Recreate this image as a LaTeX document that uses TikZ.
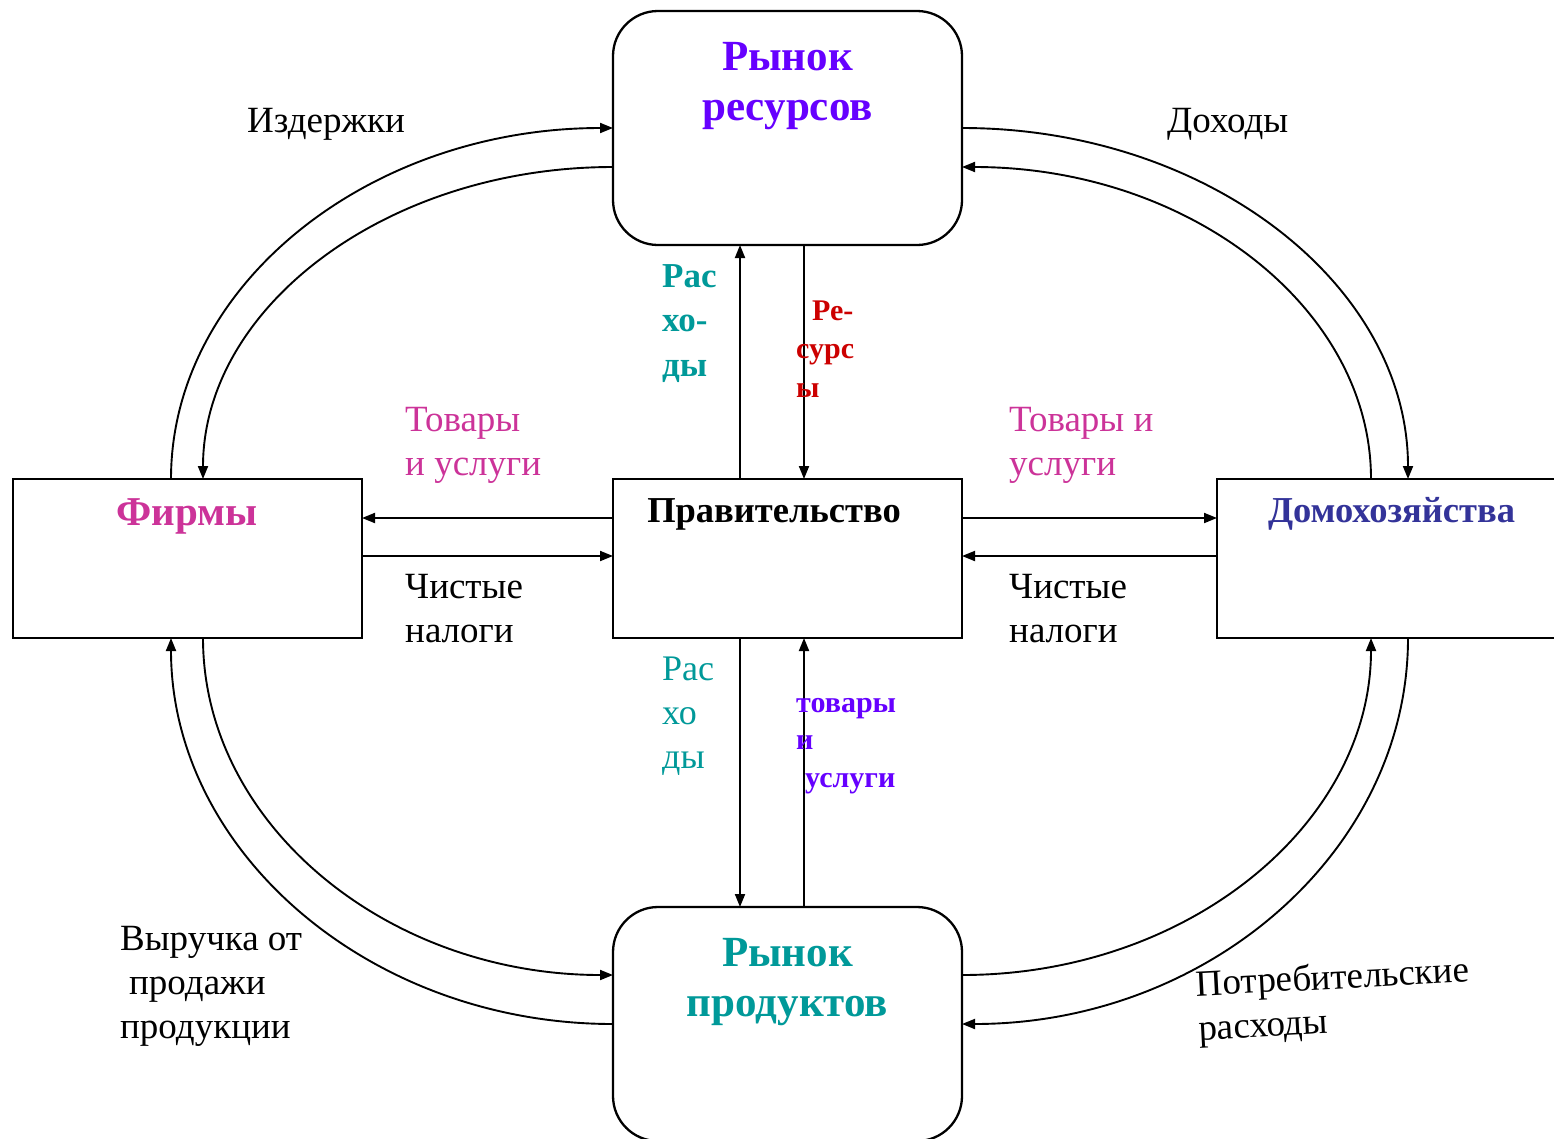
\documentclass[tikz,border=0pt]{standalone}
\usepackage{fontspec}
\setmainfont{Liberation Serif}
\usetikzlibrary{arrows.meta,calc}
\definecolor{cpurple}{HTML}{6600FF}
\definecolor{cteal}{HTML}{009999}
\definecolor{cmag}{HTML}{CC3399}
\definecolor{cred}{HTML}{CC0000}
\definecolor{cnavy}{HTML}{333399}
\begin{document}
\begin{tikzpicture}[x=1pt,y=-1pt,
  box/.style={draw,line width=2.3pt,minimum width=349pt,inner sep=0pt,outer sep=0pt},
  rbox/.style={box,rounded corners=45pt,minimum height=234pt},
  sbox/.style={box,minimum height=159pt},
  flow/.style={line width=1.9pt,-{Triangle[length=13pt,width=10pt]}},
  lbl/.style={inner sep=0pt,anchor=base west,align=left},
  ttl/.style={inner sep=0pt,anchor=base,align=center},
  reg/.style={font=\fontsize{37}{44}\selectfont},
  sml/.style={font=\bfseries\fontsize{30}{38.5}\selectfont}
]
\useasboundingbox[fill=white] (0,0) rectangle (1554,1138);

% boxes
\node[rbox] (res) at (787.5,128) {};
\node[rbox] (prod) at (787.5,1024) {};
\node[sbox] (firm) at (187.5,558.5) {};
\node[sbox] (gov) at (787.5,558.5) {};
\node[sbox] (home) at (1391.5,558.5) {};

% titles (base anchor = baseline of last line)
\node[ttl,text=cpurple,font=\bfseries\fontsize{43}{50}\selectfont] (tres) at (787.5,120) {Рынок\\ресурсов};
\node[ttl,text=cteal,font=\bfseries\fontsize{43}{50}\selectfont] (tprod) at (787.5,1016) {Рынок\\продуктов};
\node[ttl,text=cmag,font=\bfseries\fontsize{41}{48}\selectfont] (tfirm) at (187,525) {Фирмы};
\node[ttl,font=\bfseries\fontsize{36.5}{42}\selectfont] (tgov) at (774,522) {Правительство};
\node[ttl,text=cnavy,font=\bfseries\fontsize{36.5}{42}\selectfont] (thome) at (1391.5,522) {Домохозяйства};

% outer arcs
\draw[flow] ($(firm.north)+(-16.5,0)$) .. controls +(0,-194) and +(-244,0) .. (res.west);
\draw[flow] ($(res.west)+(0,39)$) .. controls +(-226,0) and +(0,-172) .. ($(firm.north)+(15.5,0)$);
\draw[flow] (res.east) .. controls +(246,0) and +(0,-194) .. ($(home.north)+(16.5,0)$);
\draw[flow] ($(home.north)+(-20.5,0)$) .. controls +(0,-172) and +(226,0) .. ($(res.east)+(0,39)$);
\draw[flow] (prod.west) .. controls +(-244,0) and +(0,213) .. ($(firm.south)+(-16.5,0)$);
\draw[flow] ($(firm.south)+(15.5,0)$) .. controls +(0,186) and +(-226,0) .. ($(prod.west)+(0,-49)$);
\draw[flow] ($(home.south)+(16.5,0)$) .. controls +(0,213) and +(246,0) .. (prod.east);
\draw[flow] ($(prod.east)+(0,-49)$) .. controls +(226,0) and +(0,186) .. ($(home.south)+(-20.5,0)$);

% vertical
\draw[flow] ($(gov.north)+(-47.5,0)$) -- ($(res.south)+(-47.5,0)$);
\draw[flow] ($(res.south)+(16.5,0)$) -- ($(gov.north)+(16.5,0)$);
\draw[flow] ($(gov.south)+(-47.5,0)$) -- ($(prod.north)+(-47.5,0)$);
\draw[flow] ($(prod.north)+(16.5,0)$) -- ($(gov.south)+(16.5,0)$);
% horizontal
\draw[flow] ($(gov.west)+(0,-40.5)$) -- ($(firm.east)+(0,-40.5)$);
\draw[flow] ($(firm.east)+(0,-2.5)$) -- ($(gov.west)+(0,-2.5)$);
\draw[flow] ($(gov.east)+(0,-40.5)$) -- ($(home.west)+(0,-40.5)$);
\draw[flow] ($(home.west)+(0,-2.5)$) -- ($(gov.east)+(0,-2.5)$);

% labels (base anchor = baseline of last line)
\node[lbl,reg] (izd) at (247,132) {Издержки};
\node[lbl,reg] (doh) at (1167,132) {Доходы};
\node[lbl,reg,text=cmag] (tg1) at (405,475) {Товары\\и услуги};
\node[lbl,reg,text=cmag] (tg2) at (1009,475) {Товары и\\услуги};
\node[lbl,reg] (nt1) at (405,642) {Чистые\\налоги};
\node[lbl,reg] (nt2) at (1009,642) {Чистые\\налоги};
\node[lbl,text=cteal,font=\bfseries\fontsize{35}{44.5}\selectfont] (ras1) at (662,376) {Рас\\хо-\\ды};
\node[lbl,sml,text=cred] (resu) at (796,397) {\hspace*{16pt}Ре-\\сурс\\ы};
\node[lbl,text=cteal,font=\fontsize{36}{44}\selectfont] (ras2) at (662,768) {Рас\\хо\\ды};
\node[lbl,text=cpurple,font=\bfseries\fontsize{30}{37.5}\selectfont] (tovu) at (796,787) {товары\\и\\\hspace*{9pt}услуги};
\node[lbl,reg] (vyr) at (120,1038) {Выручка от\\\hspace*{9pt}продажи\\продукции};
\node[lbl,reg,rotate=3] (potr) at (1199,1040) {Потребительские\\расходы};
\end{tikzpicture}
\end{document}
